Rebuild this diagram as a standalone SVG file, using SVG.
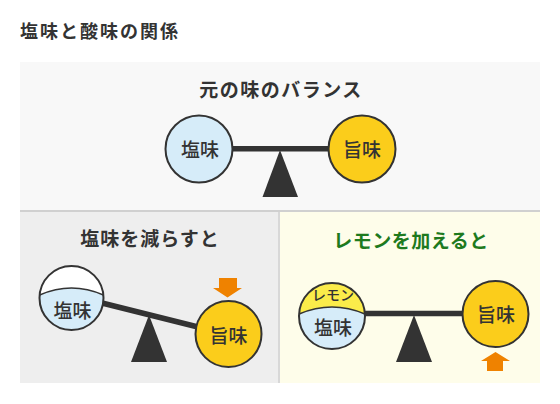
<svg xmlns="http://www.w3.org/2000/svg" width="560" height="404" viewBox="0 0 560 404">
  <style>
    text { font-family: "Noto Sans CJK JP", "Noto Sans CJK SC", sans-serif; fill: #333333; }
    .h1 { font-size: 18px; font-weight: 700; letter-spacing: 2px; }
    .h2 { font-size: 19px; font-weight: 700; text-anchor: middle; }
    .lbl { font-size: 19px; font-weight: 500; text-anchor: middle; }
    .sm { font-size: 14px; font-weight: 500; text-anchor: middle; }
    .ring { fill: none; stroke: #333333; stroke-width: 2; }
    .edge { fill: none; stroke: #333333; stroke-width: 1.5; }
    .salt { fill: #d6ecf9; }
    .umami { fill: #fbcd1b; }
    .lemon { fill: #fbec4a; }
    .empty { fill: #ffffff; }
    .beam { stroke: #333333; stroke-width: 5.5; fill: none; }
    .fulcrum { fill: #333333; }
    .arrow { fill: #ef8200; }
  </style>

  <rect width="560" height="404" fill="#ffffff"/>
  <text class="h1" x="20" y="38">塩味と酸味の関係</text>

  <!-- panels -->
  <rect x="20" y="62" width="520" height="148" fill="#f8f8f8"/>
  <rect x="20" y="210" width="520" height="2" fill="#d0d0d0"/>
  <rect x="20" y="212" width="258" height="171" fill="#eeeeee"/>
  <rect x="278" y="212" width="2" height="171" fill="#d8d8d8"/>
  <rect x="280" y="212" width="260" height="171" fill="#fefdea"/>

  <text class="h2" x="281" y="97" style="letter-spacing:1.5px">元の味のバランス</text>
  <text class="h2" x="150" y="246" style="letter-spacing:1px">塩味を減らすと</text>
  <text class="h2" x="411" y="248" style="letter-spacing:0.5px; fill:#1e7a1e">レモンを加えると</text>

  <!-- connectors (beams) -->
  <g id="connectors">
    <line class="beam" x1="230" y1="148.7" x2="330" y2="148.7"/>
    <line class="beam" x1="100" y1="302.5" x2="200" y2="327.5"/>
    <line class="beam" x1="362" y1="313.5" x2="465" y2="313.5"/>
  </g>

  <!-- fulcrums -->
  <g id="fulcrum-top"><polygon class="fulcrum" points="280,150 262.5,197 298,197"/></g>
  <g id="fulcrum-left"><polygon class="fulcrum" points="149,315 131,362 167,362"/></g>
  <g id="fulcrum-right"><polygon class="fulcrum" points="414,315 396,362 432,362"/></g>

  <!-- top panel -->
  <g id="top-salt">
    <circle class="salt" cx="199" cy="149" r="33.5"/>
    <circle class="ring" cx="199" cy="149" r="33.5"/>
    <text class="lbl" x="200" y="156.5">塩味</text>
  </g>
  <g id="top-umami">
    <circle class="umami" cx="362" cy="149" r="33.5"/>
    <circle class="ring" cx="362" cy="149" r="33.5"/>
    <text class="lbl" x="362" y="156.5">旨味</text>
  </g>

  <!-- bottom left panel -->
  <g id="left-salt">
    <circle class="empty" cx="71.5" cy="298" r="32"/>
    <path class="salt" d="M39.64,295 Q71.5,281 103.36,295 A32 32 0 1 1 39.64,295 Z"/>
    <path class="edge" d="M39.64,295 Q71.5,281 103.36,295"/>
    <circle class="ring" cx="71.5" cy="298" r="32"/>
    <text class="lbl" x="72.5" y="318">塩味</text>
  </g>
  <g id="left-umami">
    <circle class="umami" cx="228.5" cy="334" r="33"/>
    <circle class="ring" cx="228.5" cy="334" r="33"/>
    <text class="lbl" x="228.5" y="342.5">旨味</text>
  </g>
  <g id="left-arrow">
    <polygon class="arrow" points="219,278 237,278 237,288 242,288 227.5,297.5 213,288 219,288"/>
  </g>

  <!-- bottom right panel -->
  <g id="right-salt-lemon">
    <circle class="lemon" cx="332" cy="316" r="33"/>
    <path class="salt" d="M299.06,314 Q332,300 364.94,314 A33 33 0 1 1 299.06,314 Z"/>
    <path class="edge" d="M299.06,314 Q332,300 364.94,314"/>
    <circle class="ring" cx="332" cy="316" r="33"/>
    <text class="sm" x="333" y="300">レモン</text>
    <text class="lbl" x="333" y="335">塩味</text>
  </g>
  <g id="right-umami">
    <circle class="umami" cx="495.5" cy="314" r="33"/>
    <circle class="ring" cx="495.5" cy="314" r="33"/>
    <text class="lbl" x="496" y="322">旨味</text>
  </g>
  <g id="right-arrow">
    <polygon class="arrow" points="495.5,352 510,361 503,361 503,371 487,371 487,361 481,361"/>
  </g>
</svg>
